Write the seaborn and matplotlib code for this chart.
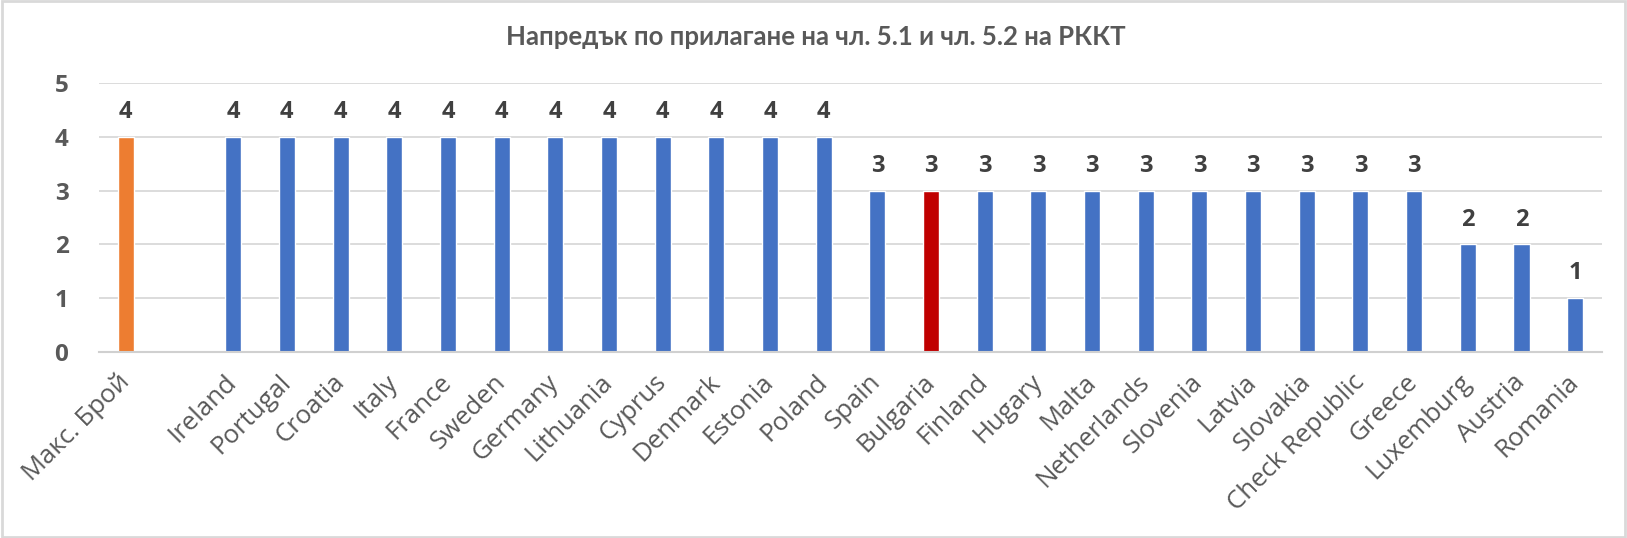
import matplotlib
matplotlib.use("Agg")
import matplotlib.pyplot as plt
import seaborn as sns
import pandas as pd
import numpy as np
from matplotlib.patches import Rectangle

categories = ["Макс. Брой", " ", "Ireland", "Portugal", "Croatia", "Italy", "France", "Sweden",
              "Germany", "Lithuania", "Cyprus", "Denmark", "Estonia", "Poland", "Spain",
              "Bulgaria", "Finland", "Hugary", "Malta", "Netherlands", "Slovenia", "Latvia",
              "Slovakia", "Check Republic", "Greece", "Luxemburg", "Austria", "Romania"]
values = [4, np.nan, 4, 4, 4, 4, 4, 4, 4, 4, 4, 4, 4, 4, 3, 3, 3, 3, 3, 3, 3, 3, 3, 3, 3, 2, 2, 1]
title = "Напредък по прилагане на чл. 5.1 и чл. 5.2 на РККТ"

BLUE, ORANGE, RED = "#4472C4", "#ED7D31", "#C00000"
colors = {c: BLUE for c in categories}
colors["Макс. Брой"] = ORANGE
colors["Bulgaria"] = RED

sns.set_theme(style="white")
plt.rcParams["font.family"] = ["Open Sans", "DejaVu Sans"]

df = pd.DataFrame({"cat": categories, "val": values})

fig = plt.figure(figsize=(16.27, 5.38), dpi=100)
ax = fig.add_axes([99 / 1627, 1 - 352 / 538, (1602 - 99) / 1627, (352 - 83) / 538])
sns.barplot(data=df, x="cat", y="val", hue="cat", palette=colors, order=categories,
            hue_order=categories, width=0.3, legend=False, ax=ax, saturation=1)

ax.set_ylim(0, 5)
ax.set_xlim(-0.5, len(categories) - 0.5)
ax.set_yticks(range(6))
ax.yaxis.grid(True, color="#d9d9d9", linewidth=1.3)
ax.set_axisbelow(True)
for s in ["left", "right", "top"]:
    ax.spines[s].set_visible(False)
ax.spines["bottom"].set_color("#d0d0d0")
ax.spines["bottom"].set_linewidth(1.5)
ax.set_xlabel("")
ax.set_ylabel("")
ax.tick_params(axis="y", length=0, pad=22, labelsize=17.5, labelcolor="#595959")
for t in ax.get_yticklabels():
    t.set_fontweight("bold")
ax.tick_params(axis="x", length=0, pad=19, labelsize=18.5, labelcolor="#595959")
ax.set_xticks(range(len(categories)))
ax.set_xticklabels(categories, rotation=45, ha="right", va="center", rotation_mode="anchor")

for i, v in enumerate(values):
    if not np.isnan(v):
        ax.text(i, v + 0.46, f"{int(v)}", ha="center", va="center", fontsize=17,
                fontweight="bold", color="#404040")

fig.text(816 / 1627, 1 - 37 / 538, title, ha="center", va="center", fontsize=18.5,
         fontweight="bold", color="#595959", family=["Lato", "DejaVu Sans"])

fig.patches.append(Rectangle((0.001, 0.002), 0.998, 0.996, transform=fig.transFigure,
                             fill=False, edgecolor="#d9d9d9", linewidth=2))

fig.savefig("out.png", dpi=100, facecolor="white")
